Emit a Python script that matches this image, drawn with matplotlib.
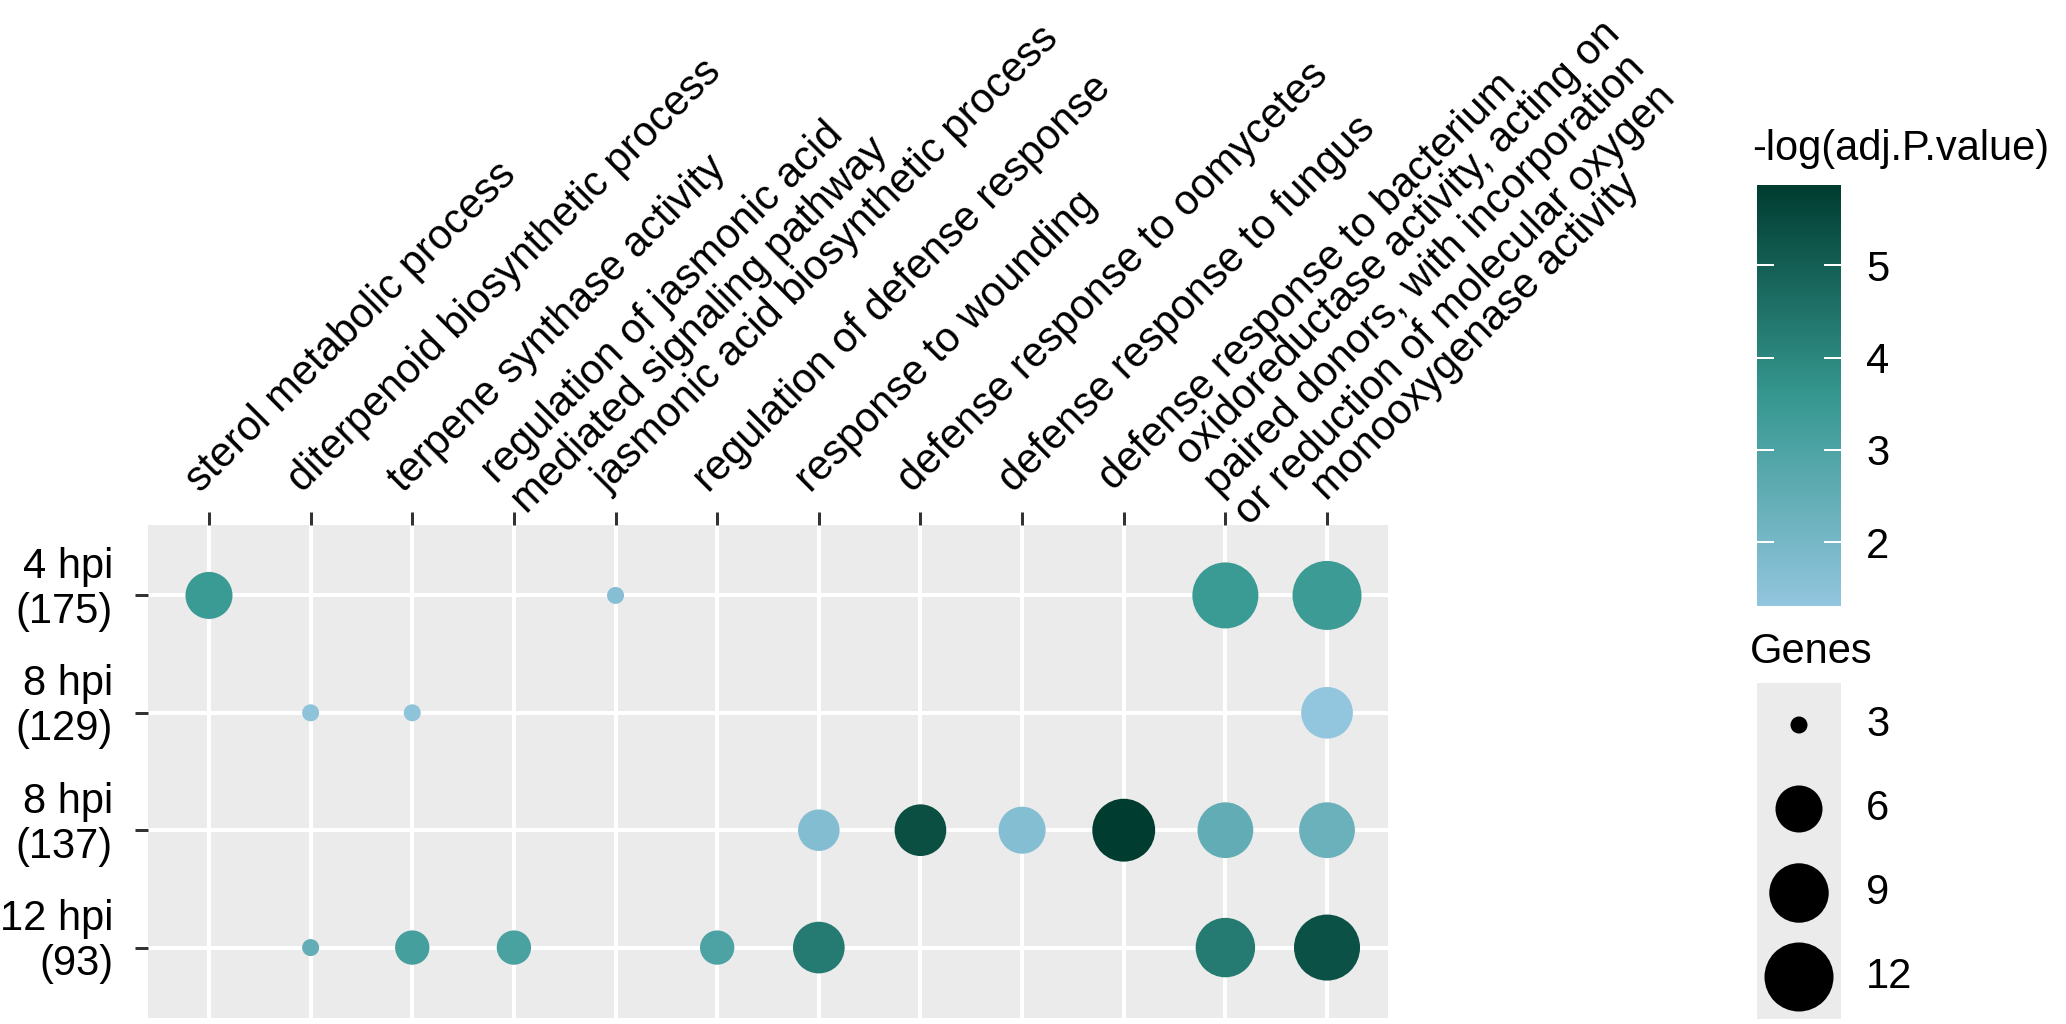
import matplotlib
matplotlib.use("Agg")
import matplotlib.pyplot as plt
import numpy as np
from matplotlib.colors import LinearSegmentedColormap, Normalize
from matplotlib.transforms import ScaledTranslation, blended_transform_factory

plt.rcParams['font.family'] = ['Liberation Sans', 'DejaVu Sans']

# GO terms (columns) and samples (rows)
terms = ["sterol metabolic process",
         "diterpenoid biosynthetic process",
         "terpene synthase activity",
         "regulation of jasmonic acid\nmediated signaling pathway",
         "jasmonic acid biosynthetic process",
         "regulation of defense response",
         "response to wounding",
         "defense response to oomycetes",
         "defense response to fungus",
         "defense response to bacterium",
         "oxidoreductase activity, acting on\npaired donors, with incorporation\nor reduction of molecular oxygen",
         "monooxygenase activity"]
samples = ["4 hpi\n(175)", "8 hpi\n(129)", "8 hpi\n(137)", "12 hpi\n(93)"]

# one entry per dot
pt_sample = [0, 0, 0, 0,
             1, 1, 1,
             2, 2, 2, 2, 2, 2,
             3, 3, 3, 3, 3, 3, 3]
pt_term = [0, 4, 10, 11,
           1, 2, 11,
           6, 7, 8, 9, 10, 11,
           1, 2, 3, 5, 6, 10, 11]
pt_genes = [6, 3, 11, 12,
            3, 3, 7,
            5, 7, 6, 10, 8, 8,
            3, 4, 4, 4, 7, 9, 11]
pt_logp = [3.45, 1.6, 3.45, 3.4,
           1.42, 1.42, 1.31,
           1.7, 5.4, 1.65, 5.87, 2.5, 2.3,
           2.45, 3.2, 3.1, 3.0, 4.3, 4.3, 5.35]

legend_genes = [3, 6, 9, 12]
cbar_ticks = [2, 3, 4, 5]

W, H, DPI = 2066, 1024, 100
px = 72.0 / DPI  # points per pixel

cmap = LinearSegmentedColormap.from_list("gt", ["#92C5DE", "#35978F", "#003C30"])
norm = Normalize(vmin=min(pt_logp), vmax=max(pt_logp))

gmin, gmax = min(pt_genes), max(pt_genes)
def dot_size(g):
    d = 17 + (69 - 17) * np.sqrt((np.asarray(g, float) - gmin) / (gmax - gmin))
    return (d * px) ** 2

fig = plt.figure(figsize=(W / DPI, H / DPI), dpi=DPI)

# main panel
ax = fig.add_axes([148 / W, 6 / H, 1240 / W, 493 / H])
ax.set_facecolor("#EBEBEB")
for s in ax.spines.values():
    s.set_visible(False)
ax.grid(True, color="white", linewidth=4 * px)
ax.set_axisbelow(True)

ys = [len(samples) - 1 - s for s in pt_sample]
ax.scatter(pt_term, ys, s=dot_size(pt_genes), c=pt_logp, cmap=cmap, norm=norm,
           linewidths=0, zorder=3)

ax.set_xlim(-0.6, len(terms) - 0.4)
ax.set_ylim(-0.6, len(samples) - 0.4)

ax.xaxis.tick_top()
ax.set_xticks(range(len(terms)))
ax.set_xticklabels(terms, rotation=45, ha="left", va="center",
                   rotation_mode="anchor", fontsize=30, linespacing=1.07)
ax.set_yticks(range(len(samples)))
ax.set_yticklabels(samples[::-1], fontsize=30, ha="right", va="center",
                   multialignment="right", linespacing=1.15)
ax.tick_params(axis="both", length=13 * px, width=3 * px, color="#333333")
ax.tick_params(axis="x", pad=26 * px)
ax.tick_params(axis="y", pad=22 * px)

# small nudges (pixels, perpendicular to the text) so the slanted labels sit like the original
nudge = [0, 0, 0, 8, 0, 0, 0, 0, 0, -3, 4, 11]
for lab, n in zip(ax.get_xticklabels(), nudge):
    dx = -16 + 0.707 * n
    dy = -0.707 * n
    lab.set_transform(lab.get_transform() + ScaledTranslation(dx / DPI, dy / DPI, fig.dpi_scale_trans))
for lab in ax.get_yticklabels():
    lab.set_transform(lab.get_transform() + ScaledTranslation(0, 6 / DPI, fig.dpi_scale_trans))

# colour bar
cax = fig.add_axes([1757 / W, (H - 606) / H, 84 / W, 421 / H])
sm = plt.cm.ScalarMappable(norm=norm, cmap=cmap)
cb = fig.colorbar(sm, cax=cax, ticks=cbar_ticks)
cb.outline.set_visible(False)
cax.yaxis.set_ticks_position("both")
cax.tick_params(direction="in", length=17 * px, width=2 * px, color="white",
                labelleft=False, labelright=True, labelsize=30, pad=25 * px)
fig.text(1752 / W, 1 - 160 / H, "-log(adj.P.value)", fontsize=30, va="baseline")

# size legend
gax = fig.add_axes([1757 / W, (H - 1019) / H, 84 / W, 336 / H])
gax.set_facecolor("#EBEBEB")
for s in gax.spines.values():
    s.set_visible(False)
gax.set_xticks([])
gax.set_yticks([])
gax.set_xlim(0, 1)
gax.set_ylim(0, len(legend_genes))
key_y = [len(legend_genes) - 0.5 - i for i in range(len(legend_genes))]
gax.scatter([0.5] * len(legend_genes), key_y, s=dot_size(legend_genes), c="black",
            linewidths=0, clip_on=False)
tr = blended_transform_factory(gax.transAxes, gax.transData) + \
    ScaledTranslation(25 / DPI, 0, fig.dpi_scale_trans)
for g, y in zip(legend_genes, key_y):
    gax.text(1.0, y, str(g), transform=tr, fontsize=30, va="center", ha="left")
fig.text(1750 / W, 1 - 663 / H, "Genes", fontsize=30, va="baseline")

fig.savefig("out.png", dpi=DPI)
